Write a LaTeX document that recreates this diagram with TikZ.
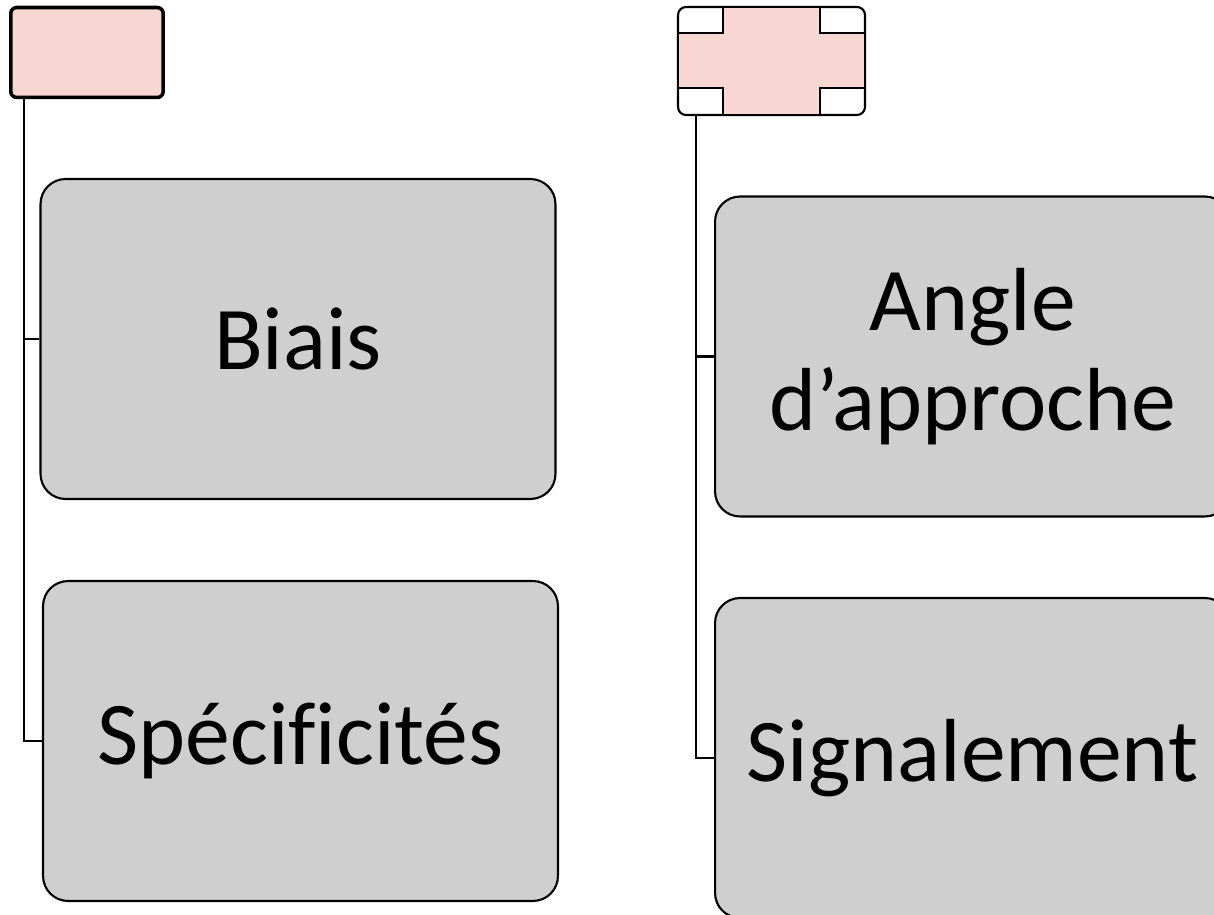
\documentclass[tikz,border=0pt]{standalone}
\usepackage{fontspec}
\setmainfont{Carlito}[Ligatures={NoCommon}]
\usepackage{xcolor}
\usepackage{tikz}
\definecolor{root-color}{RGB}{248, 215, 211}
\definecolor{item-color}{RGB}{207, 207, 207}

\begin{document}
\begin{tikzpicture}[x=0.02cm, y=-0.02cm,
  rootbox/.style={rectangle, draw, line width=2pt, rounded corners=0.12cm, fill=root-color},
  itembox/.style={rectangle, draw, line width=1.2pt, rounded corners=0.5cm, fill=item-color,
    minimum width=10.3cm, minimum height=6.4cm, align=center, inner sep=0pt,
    font=\fontsize{51}{57}\selectfont},
  link/.style={line width=1.3pt}]
\useasboundingbox (0,0) rectangle (1214,915);
\clip (0,0) rectangle (1214,915);

% left column
\node (leftroot) [rootbox, minimum width=3.05cm, minimum height=1.8cm] at (87,52.5) {};
\node (biais) [itembox] at (298,339) {Biais};
\node (specificites) [itembox] at (300.5,741) {Spéci\kern0pt fi\kern0pt cités};

% right column
\node (rightroot) [rectangle, draw, line width=1.2pt, rounded corners=0.16cm, fill=white,
  minimum width=3.74cm, minimum height=2.16cm] at (771.5,61) {};
\filldraw[fill=root-color, line width=1.2pt] (723,7) -- (820,7) -- (820,33) -- (865,33) -- (865,88)
  -- (820,88) -- (820,115) -- (723,115) -- (723,88) -- (678,88) -- (678,33) -- (723,33) -- cycle;
\node (angle) [itembox] at (972.5,356.5) {Angle\\d’approche};
\node (signalement) [itembox] at (972.5,758) {Signalement};

\draw[link] ([xshift=0.3cm]leftroot.south west) |- (biais.west);
\draw[link] ([xshift=0.3cm]leftroot.south west) |- (specificites.west);
\draw[link] ([xshift=0.38cm]rightroot.south west) |- (angle.west);
\draw[link] ([xshift=0.38cm]rightroot.south west) |- (signalement.west);
\end{tikzpicture}
\end{document}
